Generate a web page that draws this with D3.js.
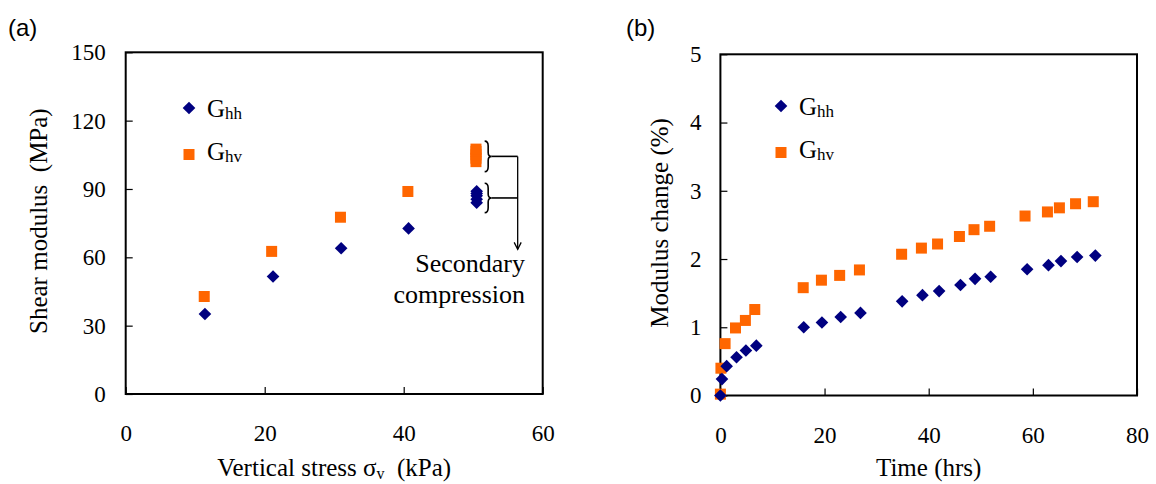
<!DOCTYPE html>
<html>
<head>
<meta charset="utf-8">
<script src="https://cdn.jsdelivr.net/npm/d3@7"></script>
<style>
  body{margin:0;background:#fff;}
  text{font-family:"Liberation Serif","Times New Roman",serif;fill:#000;white-space:pre;}
  .tag{font-family:"Liberation Sans",Arial,sans-serif;font-size:24px;}
</style>
</head>
<body>
<script>
// ===== DATA =====
// (a) shear modulus vs vertical stress
const stressHh = [11.4, 21.2, 31.0, 40.7, 50.5, 50.5, 50.5, 50.5, 50.5];
const modHh    = [35.1, 51.6, 64.0, 72.7, 84.0, 85.5, 87.0, 88.0, 89.0];
const stressHv = [11.3, 21.0, 30.9, 40.6, 50.4, 50.4, 50.4, 50.4, 50.4];
const modHv    = [42.8, 62.6, 77.6, 88.9, 102.0, 103.5, 105.0, 106.5, 107.5];

// (b) modulus change vs time
const timeHh   = [0, 0.3, 1.2, 3.1, 4.9, 6.9, 16.0, 19.5, 23.1, 26.9, 34.9, 38.8, 42.0, 46.1, 48.9, 51.9, 58.9, 63.0, 65.4, 68.5, 72.0];
const changeHh = [0, 0.24, 0.43, 0.56, 0.66, 0.73, 1.00, 1.07, 1.15, 1.21, 1.38, 1.47, 1.53, 1.62, 1.71, 1.74, 1.85, 1.91, 1.97, 2.03, 2.05];
const timeHv   = [0, 0.1, 0.9, 2.9, 4.8, 6.6, 15.9, 19.4, 22.9, 26.7, 34.8, 38.6, 41.7, 45.9, 48.7, 51.7, 58.5, 62.8, 65.1, 68.2, 71.6];
const changeHv = [0.02, 0.40, 0.76, 0.99, 1.10, 1.26, 1.58, 1.69, 1.76, 1.84, 2.07, 2.16, 2.22, 2.33, 2.43, 2.48, 2.63, 2.69, 2.75, 2.81, 2.84];

const stressTicks  = [0, 20, 40, 60];
const modulusTicks = [0, 30, 60, 90, 120, 150];
const timeTicks    = [0, 20, 40, 60, 80];
const changeTicks  = [0, 1, 2, 3, 4, 5];

const NAVY = "#000080", ORANGE = "#ff6600";

const svg = d3.select("body").append("svg").attr("width", 1156).attr("height", 484);

// ===== PANEL =====
function drawPanel(p){
  const x = d3.scaleLinear().domain(p.xDomain).range([p.left, p.right]);
  const y = d3.scaleLinear().domain(p.yDomain).range([p.bottom, p.top]);
  const g = svg.append("g");

  const xAxis = g.append("g").attr("transform", `translate(0,${p.bottom})`)
    .call(d3.axisBottom(x).tickValues(p.xTicks).tickSize(-7).tickPadding(p.xPad).tickFormat(d3.format("d")));
  const yAxis = g.append("g").attr("transform", `translate(${p.left},0)`)
    .call(d3.axisLeft(y).tickValues(p.yTicks).tickSize(-7).tickPadding(p.yPad).tickFormat(d3.format("d")));
  [xAxis, yAxis].forEach(ax => {
    ax.attr("font-family", "Liberation Serif").attr("font-size", 23);
    ax.select(".domain").remove();
    ax.selectAll("line").attr("stroke", "#000").attr("stroke-width", 1.2);
    ax.selectAll("text").attr("fill", "#000");
  });

  g.append("rect").attr("x", p.left).attr("y", p.top).attr("width", p.right - p.left).attr("height", p.bottom - p.top)
    .attr("fill", "none").attr("stroke", "#000").attr("stroke-width", 2);

  // series
  const hh = p.hx.map((v, i) => [v, p.hy[i]]);
  const hv = p.vx.map((v, i) => [v, p.vy[i]]);
  g.selectAll(".sq").data(hv).enter().append("rect").attr("class", "sq")
    .attr("x", d => x(d[0]) - 5.5).attr("y", d => y(d[1]) - 5.5).attr("width", 11).attr("height", 11).attr("fill", ORANGE);
  g.selectAll(".dm").data(hh).enter().append("path").attr("class", "dm")
    .attr("d", d3.symbol().type(d3.symbolSquare).size(80)())
    .attr("transform", d => `translate(${x(d[0])},${y(d[1])}) rotate(45)`).attr("fill", NAVY);

  // plot tag, axis titles
  g.append("text").attr("class", "tag").attr("x", p.tagX).attr("y", 36).text(p.tag);
  g.append("text").attr("transform", `translate(${p.yTitleX},${(p.top + p.bottom) / 2 - 2}) rotate(-90)`)
    .attr("text-anchor", "middle").style("font-size", "25px").text(p.yTitle);
  const xt = g.append("text").attr("x", (p.left + p.right) / 2).attr("y", 476).attr("text-anchor", "middle").style("font-size", "25px");
  p.xTitle.forEach(s => xt.append("tspan").attr("dy", s.dy || null).style("font-size", s.size ? s.size + "px" : null).text(s.t));

  // legend
  const lg = g.append("g");
  lg.append("path").attr("d", d3.symbol().type(d3.symbolSquare).size(80)())
    .attr("transform", `translate(${p.legX},${p.legY}) rotate(45)`).attr("fill", NAVY);
  lg.append("rect").attr("x", p.legX - 5.5).attr("y", p.legY + 41).attr("width", 11).attr("height", 11).attr("fill", ORANGE);
  [["hh", p.legY + 9], ["hv", p.legY + 52]].forEach(([sub, by]) => {
    const t = lg.append("text").attr("x", p.legX + 18).attr("y", by).style("font-size", "25px");
    t.append("tspan").text("G");
    t.append("tspan").attr("dy", 2).style("font-size", "17px").text(sub);
  });

  return {x, y, g};
}

// ===== (a) =====
const a = drawPanel({
  left: 125.7, right: 542.7, top: 52.3, bottom: 394,
  xDomain: [0, 60], yDomain: [0, 150], xTicks: stressTicks, yTicks: modulusTicks, xPad: 31, yPad: 20,
  hx: stressHh, hy: modHh, vx: stressHv, vy: modHv,
  tag: "(a)", tagX: 8, yTitleX: 47,
  yTitle: "Shear modulus  (MPa)",
  xTitle: [{t: "Vertical stress σ"}, {t: "v", size: 16, dy: 3}, {t: "  (kPa)", dy: -3}],
  legX: 189, legY: 108
});

// secondary compression annotation (braces round the repeated readings at the last stress)
const lastOf = (xs, ys) => ys.filter((v, i) => xs[i] === d3.max(xs));
const braceX = a.x(50.5) + 8, w = 3.5;
const brace = (y0, y1) => {
  const m = (y0 + y1) / 2;
  return `M${braceX},${y0} Q${braceX + w},${y0} ${braceX + w},${y0 + 5} L${braceX + w},${m - 4} Q${braceX + w},${m} ${braceX + 2 * w},${m}`
       + ` Q${braceX + w},${m} ${braceX + w},${m + 4} L${braceX + w},${y1 - 5} Q${braceX + w},${y1} ${braceX},${y1}`;
};
const arrowX = a.x(56.4);
const tips = [lastOf(stressHv, modHv), lastOf(stressHh, modHh)].map(vals => {
  const y0 = a.y(d3.max(vals)) - 8, y1 = a.y(d3.min(vals)) + 10;
  a.g.append("path").attr("d", brace(y0, y1)).attr("fill", "none").attr("stroke", "#000").attr("stroke-width", 1.6);
  const m = (y0 + y1) / 2;
  a.g.append("line").attr("x1", braceX + 2 * w).attr("x2", arrowX).attr("y1", m).attr("y2", m).attr("stroke", "#000").attr("stroke-width", 1.6);
  return m;
});
const arrowEnd = a.y(63.5);
a.g.append("line").attr("x1", arrowX).attr("x2", arrowX).attr("y1", tips[0]).attr("y2", arrowEnd).attr("stroke", "#000").attr("stroke-width", 1.3);
a.g.append("path").attr("d", `M${arrowX - 3.5},${arrowEnd - 7} L${arrowX},${arrowEnd} L${arrowX + 3.5},${arrowEnd - 7}`)
  .attr("fill", "none").attr("stroke", "#000").attr("stroke-width", 1.3);
a.g.append("text").attr("x", 525).attr("y", 272).attr("text-anchor", "end").style("font-size", "26px").text("Secondary");
a.g.append("text").attr("x", 525).attr("y", 303).attr("text-anchor", "end").style("font-size", "26px").text("compression");

// ===== (b) =====
drawPanel({
  left: 720.4, right: 1137, top: 54.3, bottom: 395.5,
  xDomain: [0, 80], yDomain: [0, 5], xTicks: timeTicks, yTicks: changeTicks, xPad: 31, yPad: 19,
  hx: timeHh, hy: changeHh, vx: timeHv, vy: changeHv,
  tag: "(b)", tagX: 626, yTitleX: 668,
  yTitle: "Modulus change (%)",
  xTitle: [{t: "Time (hrs)"}],
  legX: 781, legY: 106
});
</script>
</body>
</html>
